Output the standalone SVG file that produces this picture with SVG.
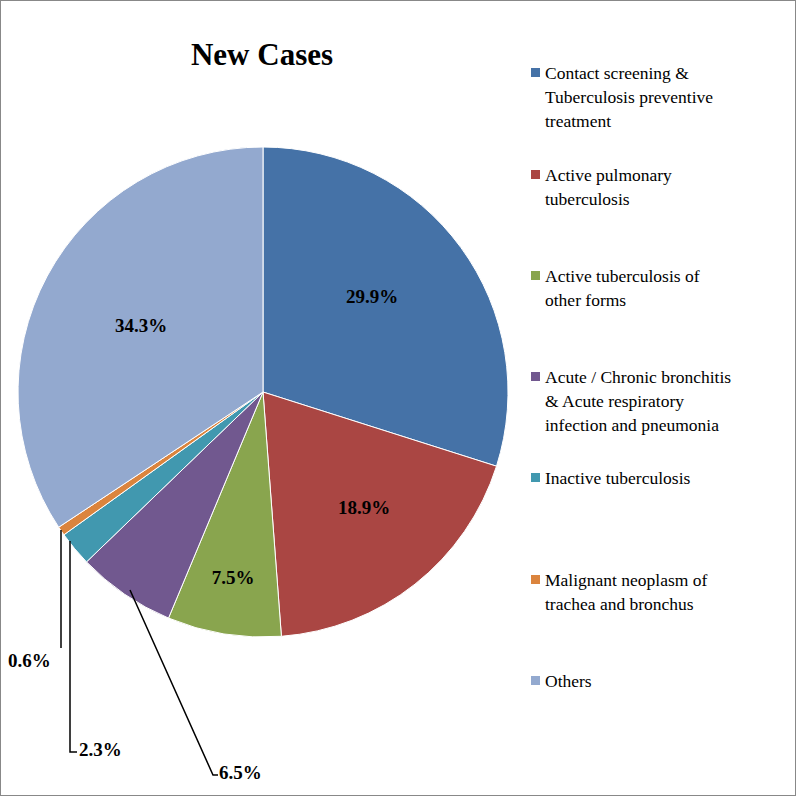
<svg xmlns="http://www.w3.org/2000/svg" width="796" height="796" viewBox="0 0 796 796">
<style>
.s{stroke:#fff;stroke-width:1}
.lb{font-family:"Liberation Serif",serif;font-weight:bold;font-size:19px;fill:#000}
.lg{font-family:"Liberation Serif",serif;font-size:17.5px;fill:#000}
.ld{fill:none;stroke:#000;stroke-width:1.5}
</style>
<rect x="0.5" y="0.5" width="795" height="795" fill="#fff" stroke="#888"/>
<text x="262" y="65" text-anchor="middle" style="font-family:'Liberation Serif',serif;font-weight:bold;font-size:31px">New Cases</text>
<g id="pie">
<path class="s" fill="#4572A7" d="M263,392 L263,147 A245,245 0 0 1 496.5,466.2 Z"/>
<path class="s" fill="#AA4643" d="M263,392 L496.5,466.2 A245,245 0 0 1 281.4,636.3 Z"/>
<path class="s" fill="#89A54E" d="M263,392 L281.4,636.3 A245,245 0 0 1 168.5,618.1 Z"/>
<path class="s" fill="#71588F" d="M263,392 L168.5,618.1 A245,245 0 0 1 86.5,561.9 Z"/>
<path class="s" fill="#4198AF" d="M263,392 L86.5,561.9 A245,245 0 0 1 63.9,534.8 Z"/>
<path class="s" fill="#DB843D" d="M263,392 L63.9,534.8 A245,245 0 0 1 58.7,527.2 Z"/>
<path class="s" fill="#93A9CF" d="M263,392 L58.7,527.2 A245,245 0 0 1 263,147 Z"/>
</g>
<g id="connectors">
<polyline class="ld" points="61,530 61,648"/>
<polyline class="ld" points="70,541 70,752 77,752"/>
<polyline class="ld" points="130,590 213,775 218,775"/>
</g>
<g id="labels">
<text class="lb" x="372" y="303" text-anchor="middle">29.9%</text>
<text class="lb" x="364" y="514" text-anchor="middle">18.9%</text>
<text class="lb" x="233" y="584" text-anchor="middle">7.5%</text>
<text class="lb" x="141" y="332" text-anchor="middle">34.3%</text>
<text class="lb" x="8" y="667">0.6%</text>
<text class="lb" x="79" y="756">2.3%</text>
<text class="lb" x="219" y="779">6.5%</text>
</g>
<g id="legend" class="lg">
<rect x="531" y="68" width="9" height="9" fill="#4572A7"/>
<text x="545" y="79">Contact screening &amp;</text><text x="545" y="103">Tuberculosis preventive</text><text x="545" y="127">treatment</text>
<rect x="531" y="170" width="9" height="9" fill="#AA4643"/>
<text x="545" y="181">Active pulmonary</text><text x="545" y="205">tuberculosis</text>
<rect x="531" y="271" width="9" height="9" fill="#89A54E"/>
<text x="545" y="282">Active tuberculosis of</text><text x="545" y="306">other forms</text>
<rect x="531" y="372" width="9" height="9" fill="#71588F"/>
<text x="545" y="383">Acute / Chronic bronchitis</text><text x="545" y="407">&amp; Acute respiratory</text><text x="545" y="431">infection and pneumonia</text>
<rect x="531" y="473" width="9" height="9" fill="#4198AF"/>
<text x="545" y="484">Inactive tuberculosis</text>
<rect x="531" y="575" width="9" height="9" fill="#DB843D"/>
<text x="545" y="586">Malignant neoplasm of</text><text x="545" y="610">trachea and bronchus</text>
<rect x="531" y="676" width="9" height="9" fill="#93A9CF"/>
<text x="545" y="687">Others</text>
</g>
</svg>
